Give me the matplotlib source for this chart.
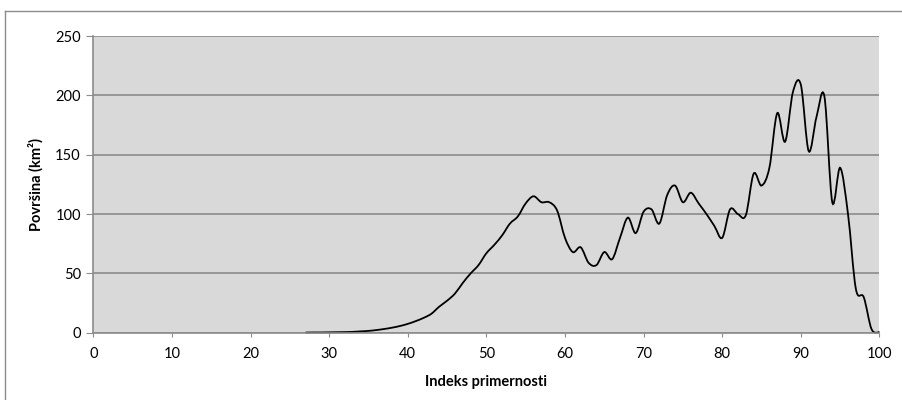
import matplotlib
matplotlib.use("Agg")
import matplotlib.pyplot as plt
from matplotlib.path import Path
from matplotlib.patches import PathPatch
from matplotlib.lines import Line2D
import numpy as np

# -- PODACI --
indeks = np.arange(27, 101)
povrsina = [0.2, 0.3, 0.3, 0.4, 0.5, 0.6, 0.8, 1.2, 1.6, 2.3,       # 27-36
            3.2, 4.3, 5.7, 7.5, 9.8, 12.5, 16, 22, 27, 33,          # 37-46
            42, 50, 57, 67, 74, 82, 92, 98, 109, 115,               # 47-56
            110, 110, 103, 80, 68, 72, 59, 57, 68, 62,              # 57-66
            80, 97, 84, 102, 104, 92, 116, 124, 110, 118,           # 67-76
            109, 100, 90, 80, 104, 100, 99, 134, 124, 139,          # 77-86
            185, 161, 203, 209, 153, 182, 199, 110, 139, 100,       # 87-96
            37, 30, 3, 0.5]                                          # 97-100
x_ticks = [0, 10, 20, 30, 40, 50, 60, 70, 80, 90, 100]
y_ticks = [0, 50, 100, 150, 200, 250]

plt.rcParams['font.family'] = ['Lato', 'DejaVu Sans']

fig = plt.figure(figsize=(9.02, 4.0), dpi=100)
ax = fig.add_axes([0.1034, 0.168, 0.8716, 0.742])

# okvir oko grafikona (kao u Excelu)
fig.add_artist(Line2D([0.006, 1.0], [0.972, 0.972], transform=fig.transFigure, color='#8c8c8c', lw=1.0))
fig.add_artist(Line2D([0.006, 0.006], [0.0, 0.972], transform=fig.transFigure, color='#8c8c8c', lw=1.0))

ax.set_facecolor('#d9d9d9')
ax.set_xlim(0, 100); ax.set_ylim(0, 250)
ax.set_xticks(x_ticks); ax.set_yticks(y_ticks)
ax.grid(axis='y', color='#8c8c8c', lw=1.2)
ax.set_axisbelow(True)
for s in ['top', 'right']:
    ax.spines[s].set_visible(False)
for s in ['left', 'bottom']:
    ax.spines[s].set_color('#8c8c8c'); ax.spines[s].set_linewidth(1.2)
ax.tick_params(axis='y', direction='out', length=5, color='#8c8c8c', labelsize=10.5, pad=4)
ax.tick_params(axis='x', direction='out', length=3, color='#8c8c8c', labelsize=10.5, pad=7)

# zaglađena linija (Bezier kao kod Excel "smoothed line")
P = np.column_stack([indeks, povrsina]).astype(float)
n = len(P)
verts = [P[0]]; codes = [Path.MOVETO]
for i in range(n - 1):
    p0 = P[i - 1] if i > 0 else P[i]
    p3 = P[i + 2] if i + 2 < n else P[i + 1]
    c1 = P[i] + (P[i + 1] - p0) / 6.0
    c2 = P[i + 1] - (p3 - P[i]) / 6.0
    verts += [c1, c2, P[i + 1]]; codes += [Path.CURVE4] * 3
ax.add_patch(PathPatch(Path(verts, codes), fill=False, edgecolor='black', lw=1.3, clip_on=False))

ax.set_xlabel('Indeks primernosti', fontsize=10.5, fontweight='bold', labelpad=10)
ax.set_ylabel('Površina (km²)', fontsize=10.5, fontweight='bold', labelpad=8)

plt.savefig('out.png', dpi=100)
